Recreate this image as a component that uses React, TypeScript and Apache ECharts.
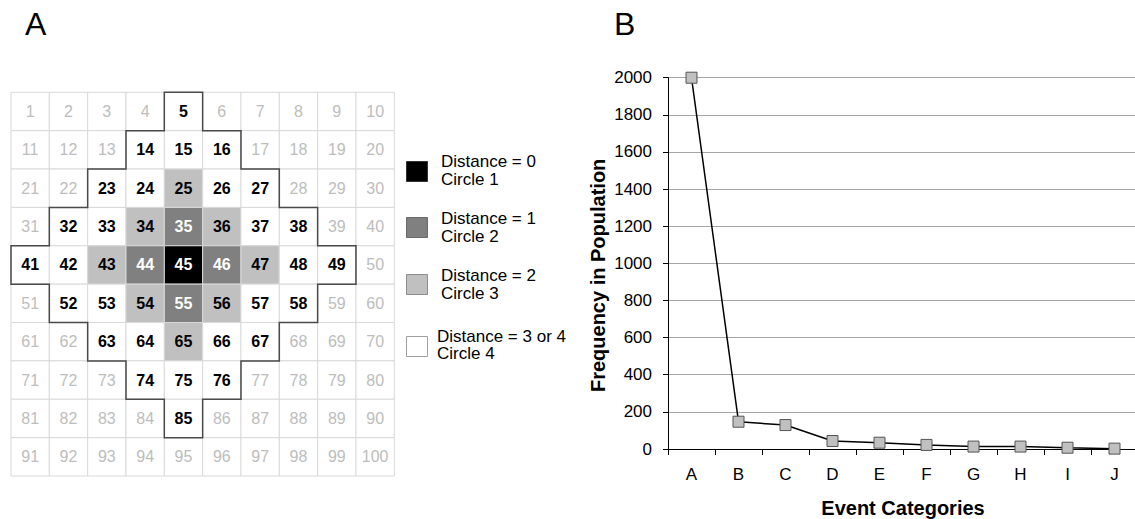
import React, { useEffect, useRef } from "react";
import * as echarts from "echarts";

const FONT = "'Liberation Sans', Arial, Helvetica, sans-serif";

// ---- Panel A data ----
const gridColumns = ["0", "1", "2", "3", "4", "5", "6", "7", "8", "9"];
const gridRows = ["0", "1", "2", "3", "4", "5", "6", "7", "8", "9"];

const cellNumbers: number[][] = [
  [1, 2, 3, 4, 5, 6, 7, 8, 9, 10],
  [11, 12, 13, 14, 15, 16, 17, 18, 19, 20],
  [21, 22, 23, 24, 25, 26, 27, 28, 29, 30],
  [31, 32, 33, 34, 35, 36, 37, 38, 39, 40],
  [41, 42, 43, 44, 45, 46, 47, 48, 49, 50],
  [51, 52, 53, 54, 55, 56, 57, 58, 59, 60],
  [61, 62, 63, 64, 65, 66, 67, 68, 69, 70],
  [71, 72, 73, 74, 75, 76, 77, 78, 79, 80],
  [81, 82, 83, 84, 85, 86, 87, 88, 89, 90],
  [91, 92, 93, 94, 95, 96, 97, 98, 99, 100],
];

// 0 = outside, 1 = circle 1 (distance 0), 2 = circle 2, 3 = circle 3, 4 = circle 4
const circleLevel: number[][] = [
  [0, 0, 0, 0, 4, 0, 0, 0, 0, 0],
  [0, 0, 0, 4, 4, 4, 0, 0, 0, 0],
  [0, 0, 4, 4, 3, 4, 4, 0, 0, 0],
  [0, 4, 4, 3, 2, 3, 4, 4, 0, 0],
  [4, 4, 3, 2, 1, 2, 3, 4, 4, 0],
  [0, 4, 4, 3, 2, 3, 4, 4, 0, 0],
  [0, 0, 4, 4, 3, 4, 4, 0, 0, 0],
  [0, 0, 0, 4, 4, 4, 0, 0, 0, 0],
  [0, 0, 0, 0, 4, 0, 0, 0, 0, 0],
  [0, 0, 0, 0, 0, 0, 0, 0, 0, 0],
];

const levelFill = ["#ffffff", "#000000", "#808080", "#c0c0c0", "#ffffff"];
const levelText = ["#bdbdbd", "#ffffff", "#ffffff", "#000000", "#000000"];

const legendLabels = [
  "Distance = 0\nCircle 1",
  "Distance = 1\nCircle 2",
  "Distance = 2\nCircle 3",
  "Distance = 3 or 4\nCircle 4",
];
const legendFill = ["#000000", "#808080", "#c0c0c0", "#ffffff"];
const legendStroke = ["#333333", "#6a6a6a", "#8c8c8c", "#a0a0a0"];

// ---- Panel B data ----
const eventCategories = ["A", "B", "C", "D", "E", "F", "G", "H", "I", "J"];
const frequencies = [2000, 147, 129, 43, 34, 22, 13, 13, 7, 2];

export default function App() {
  const ref = useRef<HTMLDivElement>(null);

  useEffect(() => {
    if (!ref.current) return;
    const chart = echarts.init(ref.current, undefined, { renderer: "svg" });

    const cellData: number[][] = [];
    circleLevel.forEach((row, r) => {
      row.forEach((lvl, c) => {
        cellData.push([c, r, lvl, cellNumbers[r][c]]);
      });
    });

    const legendBoxTop = [161, 217, 274, 336];
    const legendTextY = [170, 227, 284, 345];
    const legendTextX = [441, 441, 441, 437];
    const legendLineH = [18, 18, 18, 17.5];

    const graphics: any[] = [
      {
        type: "text",
        x: 25,
        y: 24,
        style: { text: "A", fill: "#000", font: `32px ${FONT}`, verticalAlign: "middle" },
      },
      {
        type: "text",
        x: 614,
        y: 24,
        style: { text: "B", fill: "#000", font: `32px ${FONT}`, verticalAlign: "middle" },
      },
    ];
    legendLabels.forEach((lab, i) => {
      graphics.push({
        type: "rect",
        shape: { x: 406.5, y: legendBoxTop[i] + 0.5, width: 21, height: 20 },
        style: { fill: legendFill[i], stroke: legendStroke[i], lineWidth: 1 },
      });
      graphics.push({
        type: "text",
        x: legendTextX[i],
        y: legendTextY[i],
        style: {
          text: lab,
          fill: "#000",
          fontSize: 17,
          fontFamily: FONT,
          lineHeight: legendLineH[i],
          verticalAlign: "middle",
        },
      });
    });

    const option: any = {
      animation: false,
      backgroundColor: "#ffffff",
      textStyle: { fontFamily: FONT },
      graphic: graphics,
      grid: [
        { left: 11, top: 92.3, width: 383.3, height: 383.7, containLabel: false, outerBoundsMode: "none" },
        { left: 668, top: 77.7, width: 470, height: 371.3, containLabel: false, outerBoundsMode: "none" },
      ],
      xAxis: [
        {
          gridIndex: 0,
          type: "category",
          data: gridColumns,
          show: false,
        },
        {
          gridIndex: 1,
          type: "category",
          data: eventCategories,
          boundaryGap: true,
          axisLine: { show: true, lineStyle: { color: "#000", width: 1 } },
          axisTick: { show: true, length: 6, lineStyle: { color: "#000" } },
          axisLabel: { color: "#000", fontSize: 17, margin: 17, fontFamily: FONT },
          splitLine: { show: false },
          name: "Event Categories",
          nameLocation: "middle",
          nameGap: 49,
          nameTextStyle: { color: "#000", fontSize: 20, fontWeight: "bold", fontFamily: FONT },
        },
      ],
      yAxis: [
        {
          gridIndex: 0,
          type: "category",
          data: gridRows,
          inverse: true,
          show: false,
        },
        {
          gridIndex: 1,
          type: "value",
          min: 0,
          max: 2000,
          interval: 200,
          axisLine: { show: true, lineStyle: { color: "#000", width: 1 } },
          axisTick: { show: true, length: 5, lineStyle: { color: "#000" } },
          axisLabel: {
            color: "#000",
            fontSize: 17,
            margin: 16,
            fontFamily: FONT,
            formatter: (v: number) => String(v),
          },
          splitLine: { show: true, lineStyle: { color: "#a6a6a6", width: 1 } },
          name: "Frequency in Population",
          nameLocation: "middle",
          nameRotate: 90,
          nameGap: 60,
          nameTextStyle: {
            color: "#000",
            fontSize: 20,
            fontWeight: "bold",
            fontFamily: FONT,
            padding: [0, 24, 0, 0],
          },
        },
      ],
      series: [
        {
          type: "custom",
          xAxisIndex: 0,
          yAxisIndex: 0,
          data: cellData,
          z: 2,
          renderItem: (_params: any, api: any) => {
            const col = api.value(0);
            const row = api.value(1);
            const lvl = api.value(2);
            const num = api.value(3);
            const c = api.coord([col, row]);
            const s = api.size([1, 1]);
            return {
              type: "group",
              children: [
                {
                  type: "rect",
                  shape: { x: c[0] - s[0] / 2, y: c[1] - s[1] / 2, width: s[0], height: s[1] },
                  style: { fill: levelFill[lvl], stroke: "#d9d9d9", lineWidth: 1 },
                },
                {
                  type: "text",
                  x: c[0],
                  y: c[1],
                  style: {
                    text: String(num),
                    fill: levelText[lvl],
                    fontSize: 16,
                    fontFamily: FONT,
                    fontWeight: lvl > 0 ? "bold" : "normal",
                    align: "center",
                    verticalAlign: "middle",
                  },
                },
              ],
            };
          },
        },
        {
          type: "custom",
          xAxisIndex: 0,
          yAxisIndex: 0,
          data: [[0, 0]],
          z: 5,
          renderItem: (_params: any, api: any) => {
            const s = api.size([1, 1]);
            const w = s[0];
            const h = s[1];
            const right: number[][] = [];
            const left: number[][] = [];
            circleLevel.forEach((row, r) => {
              const inside = row.map((l, i) => (l > 0 ? i : -1)).filter((i) => i >= 0);
              if (!inside.length) return;
              const lo = inside[0];
              const hi = inside[inside.length - 1];
              const cHi = api.coord([hi, r]);
              const cLo = api.coord([lo, r]);
              right.push([cHi[0] + w / 2, cHi[1] - h / 2], [cHi[0] + w / 2, cHi[1] + h / 2]);
              left.unshift([cLo[0] - w / 2, cLo[1] + h / 2], [cLo[0] - w / 2, cLo[1] - h / 2]);
            });
            return {
              type: "polygon",
              shape: { points: right.concat(left) },
              style: { fill: "none", stroke: "#4a4a4a", lineWidth: 1.5 },
            };
          },
        },
        {
          type: "line",
          xAxisIndex: 1,
          yAxisIndex: 1,
          data: frequencies,
          z: 5,
          lineStyle: { color: "#000", width: 1.5 },
          symbol: "rect",
          symbolSize: 11,
          itemStyle: { color: "#c0c0c0", borderColor: "#555", borderWidth: 1 },
        },
      ],
    };

    chart.setOption(option);
    return () => chart.dispose();
  }, []);

  return (
    <div
      ref={ref}
      style={{ position: "fixed", left: 0, top: 0, width: 1135, height: 519, background: "#fff" }}
    />
  );
}
